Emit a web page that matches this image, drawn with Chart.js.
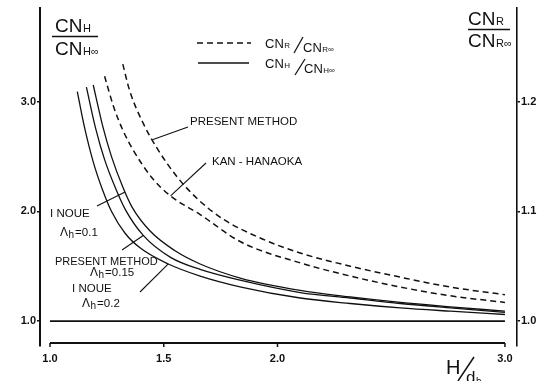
<!DOCTYPE html>
<html>
<head>
<meta charset="utf-8">
<script src="https://cdn.jsdelivr.net/npm/chart.js@4/dist/chart.umd.min.js"></script>
<style>
  html, body { margin: 0; padding: 0; background: #fff; }
  #c { display: block; }
</style>
</head>
<body>
<canvas id="c" width="541" height="381"></canvas>
<script>
// Tick labels
const xTicks = [1.0, 1.5, 2.0, 3.0];   // H/d_h
const hTicks = [1.0, 2.0, 3.0];        // CN_H / CN_H∞ (left)
const rTicks = [1.0, 1.1, 1.2];        // CN_R / CN_R∞ (right)

// CN_H / CN_H∞ curves (solid, left axis)
const inoue02X   = [1.12, 1.15, 1.19, 1.23, 1.27, 1.33, 1.40, 1.52, 1.66, 1.84, 2.10, 2.32, 2.54, 2.76, 3.00];
const inoue02Y   = [3.09, 2.78, 2.45, 2.20, 2.00, 1.80, 1.66, 1.52, 1.41, 1.31, 1.21, 1.16, 1.12, 1.09, 1.06];
const present015X = [1.16, 1.20, 1.24, 1.29, 1.33, 1.41, 1.53, 1.66, 1.84, 2.10, 2.32, 2.54, 2.76, 3.00];
const present015Y = [3.13, 2.76, 2.47, 2.20, 2.02, 1.78, 1.58, 1.47, 1.37, 1.26, 1.21, 1.16, 1.12, 1.08];
const inoue01X   = [1.19, 1.23, 1.27, 1.32, 1.36, 1.44, 1.55, 1.66, 1.84, 2.10, 2.32, 2.54, 2.76, 3.00];
const inoue01Y   = [3.15, 2.79, 2.50, 2.22, 2.04, 1.82, 1.64, 1.52, 1.39, 1.28, 1.22, 1.17, 1.13, 1.09];

// CN_R / CN_R∞ curves (dashed, right axis)
const presentRX = [1.32, 1.35, 1.41, 1.475, 1.56, 1.65, 1.76, 1.92, 2.10, 2.32, 2.54, 2.76, 3.00];
const presentRY = [1.234, 1.210, 1.180, 1.156, 1.131, 1.111, 1.093, 1.076, 1.062, 1.050, 1.040, 1.031, 1.024];
const kanRX = [1.24, 1.28, 1.32, 1.365, 1.45, 1.53, 1.66, 1.84, 2.10, 2.32, 2.54, 2.76, 3.00];
const kanRY = [1.223, 1.195, 1.174, 1.156, 1.130, 1.114, 1.097, 1.072, 1.053, 1.041, 1.031, 1.023, 1.017];

// Reference level
const baseX = [1.0, 3.0];
const baseY = [1.0, 1.0];

// Axis ranges
const xMin = 0.956, xMax = 3.053;
const hMin = 0.773, hMax = 3.855;
const rMin = 1 + (hMin - 1) / 10, rMax = 1 + (hMax - 1) / 10;

const INK = '#111';
const FONT = '"Liberation Sans", Arial, sans-serif';

function pts(xs, ys) { return xs.map((x, i) => ({ x: x, y: ys[i] })); }
function lerpAt(xs, ys, x) {
  for (let i = 0; i < xs.length - 1; i++) {
    if (x >= xs[i] && x <= xs[i + 1]) {
      const t = (x - xs[i]) / (xs[i + 1] - xs[i]);
      return ys[i] + t * (ys[i + 1] - ys[i]);
    }
  }
  return ys[ys.length - 1];
}

function solid(label, xs, ys) {
  return { label, data: pts(xs, ys), yAxisID: 'y', borderColor: INK, borderWidth: 1.3,
           pointRadius: 0, cubicInterpolationMode: 'monotone', fill: false };
}
function dashed(label, xs, ys) {
  return { label, data: pts(xs, ys), yAxisID: 'yR', borderColor: INK, borderWidth: 1.5,
           borderDash: [6, 4], pointRadius: 0, cubicInterpolationMode: 'monotone', fill: false };
}

// text helpers
function txt(ctx, s, x, y, size, weight) {
  ctx.font = (weight || 'normal') + ' ' + size + 'px ' + FONT;
  ctx.fillText(s, x, y);
  return x + ctx.measureText(s).width;
}
function cnSub(ctx, x, y, size, sub, subSize) {
  const e = txt(ctx, 'CN', x, y, size);
  return txt(ctx, sub, e + 0.5, y, subSize);
}
function line(ctx, x0, y0, x1, y1, w) {
  ctx.lineWidth = w || 1.2;
  ctx.beginPath(); ctx.moveTo(x0, y0); ctx.lineTo(x1, y1); ctx.stroke();
}
function lambda(ctx, x, y, value) {
  let e = txt(ctx, 'Λ', x, y, 12);
  e = txt(ctx, 'h', e + 0.5, y + 2, 10);
  txt(ctx, '=' + value, e + 1, y, 11.5);
}

const decorations = {
  id: 'decorations',
  afterDraw(chart) {
    const ctx = chart.ctx;
    const xs = chart.scales.x, yl = chart.scales.y, yr = chart.scales.yR;
    const area = chart.chartArea;
    ctx.save();
    ctx.fillStyle = INK; ctx.strokeStyle = INK;
    ctx.textBaseline = 'alphabetic'; ctx.textAlign = 'left';

    // bottom axis line with ticks
    const by = area.bottom - 3;
    line(ctx, xs.getPixelForValue(xTicks[0]), by, xs.getPixelForValue(xTicks[xTicks.length - 1]), by, 2);
    xTicks.forEach(v => { const px = xs.getPixelForValue(v); line(ctx, px, by, px, by + 4, 1.5); });

    // left axis title
    cnSub(ctx, 55, 32, 19, 'H', 11);
    line(ctx, 52, 36.5, 98, 36.5, 1.5);
    cnSub(ctx, 55, 55, 19, 'H∞', 11);

    // right axis title
    cnSub(ctx, 468, 25, 19, 'R', 11);
    line(ctx, 468, 29.5, 510, 29.5, 1.5);
    cnSub(ctx, 468, 47, 19, 'R∞', 11);

    // x axis title H/d_h
    txt(ctx, 'H', 446, 374, 20);
    line(ctx, 458, 381, 474, 357, 1.5);
    const de = txt(ctx, 'd', 466, 383, 17);
    txt(ctx, 'h', de + 0.5, 385, 10);

    // legend
    ctx.setLineDash([6, 4]);
    line(ctx, 197, 43, 251, 43, 1.6);
    ctx.setLineDash([]);
    line(ctx, 198, 63, 249, 63, 1.6);
    cnSub(ctx, 265, 48, 13, 'R', 8);
    line(ctx, 294, 53, 303, 37, 1.2);
    cnSub(ctx, 303, 52, 13, 'R∞', 8);
    cnSub(ctx, 265, 68, 13, 'H', 8);
    line(ctx, 295, 75, 305, 59, 1.2);
    cnSub(ctx, 304, 73, 13, 'H∞', 8);

    // curve labels with leaders
    const lead = (x0, y0, xv, scale, cx, cy) => {
      line(ctx, x0, y0, xs.getPixelForValue(xv), scale.getPixelForValue(lerpAt(cx, cy, xv)), 1.1);
    };
    txt(ctx, 'PRESENT METHOD', 190, 125, 11.5);
    lead(188, 127, 1.45, yr, presentRX, presentRY);
    txt(ctx, 'KAN - HANAOKA', 212, 165, 11.5);
    lead(206, 163, 1.53, yr, kanRX, kanRY);

    txt(ctx, 'I NOUE', 50, 217, 11.5);
    lambda(ctx, 60, 236, '0.1');
    lead(97, 206, 1.33, yl, inoue01X, inoue01Y);

    txt(ctx, 'PRESENT METHOD', 55, 265, 11);
    lambda(ctx, 90, 276, '0.15');
    lead(122, 250, 1.41, yl, present015X, present015Y);

    txt(ctx, 'I NOUE', 72, 292, 11.5);
    lambda(ctx, 82, 307, '0.2');
    lead(140, 292, 1.52, yl, inoue02X, inoue02Y);

    ctx.restore();
  }
};

const tickFont = { family: FONT, size: 11, weight: 'bold' };

new Chart(document.getElementById('c'), {
  type: 'line',
  data: {
    datasets: [
      { label: 'reference', data: pts(baseX, baseY), yAxisID: 'y', borderColor: INK, borderWidth: 1.8,
        pointRadius: 0, fill: false },
      solid('INOUE Λh=0.2', inoue02X, inoue02Y),
      solid('PRESENT METHOD Λh=0.15', present015X, present015Y),
      solid('INOUE Λh=0.1', inoue01X, inoue01Y),
      dashed('KAN-HANAOKA', kanRX, kanRY),
      dashed('PRESENT METHOD', presentRX, presentRY)
    ]
  },
  options: {
    responsive: false,
    devicePixelRatio: 1,
    animation: false,
    layout: { padding: { top: 7, left: 0, right: 0, bottom: 0 } },
    plugins: { legend: { display: false }, tooltip: { enabled: false } },
    scales: {
      x: {
        type: 'linear', min: xMin, max: xMax,
        afterBuildTicks: a => { a.ticks = xTicks.map(v => ({ value: v })); },
        afterFit: s => { s.height = 35; },
        grid: { display: false, drawTicks: false },
        border: { display: false },
        ticks: { color: INK, font: tickFont, padding: 6, maxRotation: 0, autoSkip: false,
                 callback: v => Number(v).toFixed(1) }
      },
      y: {
        type: 'linear', position: 'left', min: hMin, max: hMax,
        afterBuildTicks: a => { a.ticks = hTicks.map(v => ({ value: v })); },
        afterFit: s => { s.width = 40; },
        grid: { drawOnChartArea: false, drawTicks: true, tickLength: 3, color: INK, lineWidth: 1.5 },
        border: { display: true, color: INK, width: 2 },
        ticks: { color: INK, font: tickFont, padding: 1, callback: v => Number(v).toFixed(1) }
      },
      yR: {
        type: 'linear', position: 'right', min: rMin, max: rMax,
        afterBuildTicks: a => { a.ticks = rTicks.map(v => ({ value: v })); },
        afterFit: s => { s.width = 24; },
        grid: { drawOnChartArea: false, drawTicks: true, tickLength: 3, color: INK, lineWidth: 1.5 },
        border: { display: true, color: INK, width: 1.6 },
        ticks: { color: INK, font: tickFont, padding: 1, callback: v => Number(v).toFixed(1) }
      }
    }
  },
  plugins: [decorations]
});
</script>
</body>
</html>
